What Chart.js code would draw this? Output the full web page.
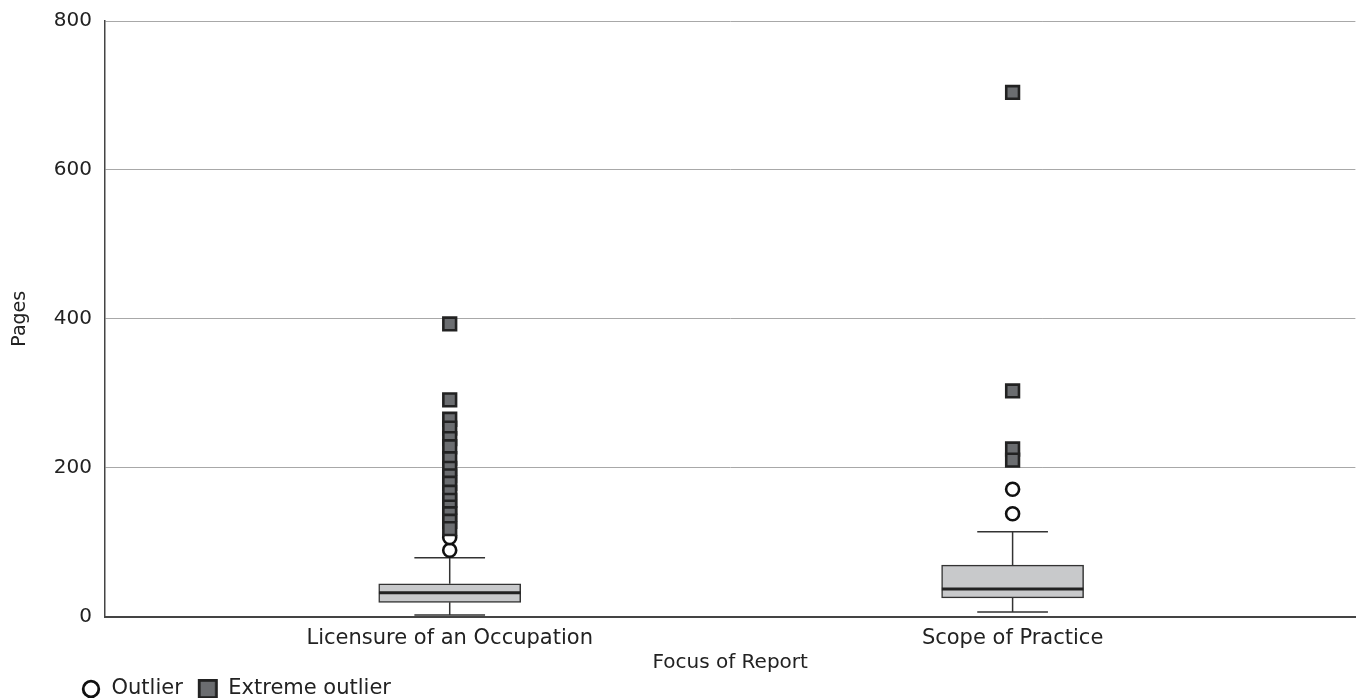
<!DOCTYPE html>
<html>
<head>
<meta charset="utf-8">
<title>Pages by Focus of Report</title>
<script src="https://cdn.jsdelivr.net/npm/chart.js@4.4.1/dist/chart.umd.min.js"></script>
<style>
  html, body { margin: 0; padding: 0; background: #ffffff; }
  #wrap { width: 1367px; height: 698px; }
</style>
</head>
<body>
<div id="wrap"><canvas id="chart" width="1367" height="698"></canvas></div>
<script>
// Report length (pages) by focus of report
const categories = ['Licensure of an Occupation', 'Scope of Practice'];
const lowerWhisker = [2, 6];
const q1 = [19, 25];
const median = [32, 37];
const q3 = [44, 69];
const upperWhisker = [79, 114];
const outliers = [[89, 106], [138, 171]];
const extremeOutliers = [
  [393, 291, 265, 253, 239, 228, 212, 199, 189, 179, 167, 156, 147, 138, 128, 118],
  [704, 303, 225, 210]
];
const yTicks = [0, 200, 400, 600, 800];

// Box geometry, in units of the x scale (one unit between categories)
const BOX_HALF = 0.1257;
const CAP_HALF = 0.0628;
const LEGEND_INDENT = 66;
const FONT = "'DejaVu Sans', 'Liberation Sans', Arial, sans-serif";
const INK = '#333333';
const TEXT = '#222222';

// x position of each category on the linear x scale
const catX = i => i + 1;

const boxData = categories.map((c, i) => ({ x: catX(i), y: [q1[i], q3[i]] }));

const medianData = [];
categories.forEach((c, i) => {
  medianData.push({ x: catX(i) - BOX_HALF, y: median[i] });
  medianData.push({ x: catX(i) + BOX_HALF, y: median[i] });
  medianData.push({ x: catX(i) + 0.5, y: null });
});

const whiskerData = [];
categories.forEach((c, i) => {
  const x = catX(i);
  whiskerData.push({ x, y: q3[i] }, { x, y: upperWhisker[i] }, { x, y: null });
  whiskerData.push({ x: x - CAP_HALF, y: upperWhisker[i] }, { x: x + CAP_HALF, y: upperWhisker[i] }, { x, y: null });
  whiskerData.push({ x, y: q1[i] }, { x, y: lowerWhisker[i] }, { x, y: null });
  whiskerData.push({ x: x - CAP_HALF, y: lowerWhisker[i] }, { x: x + CAP_HALF, y: lowerWhisker[i] }, { x, y: null });
});

const outlierData = [];
categories.forEach((c, i) => outliers[i].forEach(v => outlierData.push({ x: catX(i), y: v })));
const extremeData = [];
categories.forEach((c, i) => extremeOutliers[i].forEach(v => extremeData.push({ x: catX(i), y: v })));

// Legend markers drawn on small canvases
function makeIcon(kind) {
  const cv = document.createElement('canvas');
  cv.width = 22; cv.height = 22;
  const g = cv.getContext('2d');
  g.lineWidth = 2.8;
  if (kind === 'circle') {
    g.fillStyle = '#ffffff';
    g.strokeStyle = '#111111';
    g.beginPath(); g.arc(11, 11, 7.8, 0, Math.PI * 2); g.fill(); g.stroke();
  } else {
    g.fillStyle = '#6b6d70';
    g.strokeStyle = '#222222';
    g.fillRect(2, 2, 18, 18);
    g.strokeRect(2.4, 2.4, 17.2, 17.2);
  }
  return cv;
}
const circleIcon = makeIcon('circle');
const squareIcon = makeIcon('square');

// Indent the legend row under the axis labels
const legendIndent = {
  id: 'legendIndent',
  afterLayout(chart) {
    if (chart.legend) chart.legend.left += LEGEND_INDENT;
  }
};

new Chart(document.getElementById('chart'), {
  type: 'bar',
  plugins: [legendIndent],
  data: {
    datasets: [
      {
        type: 'scatter', label: 'Outlier', data: outlierData, order: 1,
        pointStyle: 'circle', pointRadius: 6.5, pointHoverRadius: 6.5,
        backgroundColor: '#ffffff', borderColor: '#111111', borderWidth: 2.6
      },
      {
        type: 'scatter', label: 'Extreme outlier', data: extremeData, order: 0,
        pointStyle: 'rect', pointRadius: 9, pointHoverRadius: 9,
        backgroundColor: '#6b6d70', borderColor: '#222222', borderWidth: 2.6
      },
      {
        type: 'line', label: 'median', data: medianData, order: 2,
        borderColor: '#222222', borderWidth: 3, pointRadius: 0, spanGaps: false, tension: 0
      },
      {
        type: 'bar', label: 'box', data: boxData, order: 3,
        backgroundColor: '#c8c9cb', borderColor: INK, borderWidth: 1.5,
        borderSkipped: false, barThickness: 142
      },
      {
        type: 'line', label: 'whisker', data: whiskerData, order: 4,
        borderColor: INK, borderWidth: 1.5, pointRadius: 0, spanGaps: false, tension: 0
      }
    ]
  },
  options: {
    responsive: false,
    animation: false,
    devicePixelRatio: 1,
    layout: { padding: { left: 0, right: 3, top: 0, bottom: -11.5 } },
    plugins: {
      tooltip: { enabled: false },
      legend: {
        position: 'bottom',
        align: 'start',
        labels: {
          usePointStyle: true,
          boxHeight: 20,
          boxWidth: 20,
          padding: 15,
          color: TEXT,
          font: { family: FONT, size: 21, lineHeight: 1 },
          filter: item => item.text === 'Outlier' || item.text === 'Extreme outlier',
          generateLabels: chart => chart.data.datasets.map((ds, i) => ({
            text: ds.label,
            datasetIndex: i,
            pointStyle: ds.label === 'Outlier' ? circleIcon : squareIcon,
            fillStyle: ds.backgroundColor,
            strokeStyle: ds.borderColor,
            lineWidth: 0,
            fontColor: TEXT,
            hidden: false
          }))
        }
      }
    },
    scales: {
      x: {
        type: 'linear',
        min: 0.3876,
        max: 2.609,
        offset: false,
        grid: { display: false, drawTicks: false },
        border: { display: true, color: '#444444', width: 2 },
        afterBuildTicks: axis => { axis.ticks = categories.map((c, i) => ({ value: catX(i) })); },
        ticks: {
          autoSkip: false,
          maxRotation: 0,
          padding: 11.5,
          color: TEXT,
          font: { family: FONT, size: 21, lineHeight: 1 },
          callback: v => categories[Math.round(v) - 1] || ''
        },
        title: {
          display: true,
          text: 'Focus of Report',
          color: TEXT,
          font: { family: FONT, size: 20, lineHeight: 1 },
          padding: { top: -7.5, bottom: -9.5 }
        }
      },
      y: {
        min: 0,
        max: 800,
        afterBuildTicks: axis => { axis.ticks = yTicks.map(v => ({ value: v })); },
        afterFit: scale => { scale.width = 105; },
        grid: { color: '#a8a8a8', lineWidth: 1, drawTicks: false },
        border: { display: true, color: '#444444', width: 1.5 },
        ticks: {
          padding: 13,
          color: TEXT,
          font: { family: FONT, size: 20, lineHeight: 0.8 }
        },
        title: {
          display: true,
          text: 'Pages',
          color: TEXT,
          font: { family: FONT, size: 19, lineHeight: 1 },
          padding: { top: 10.5, bottom: 0 }
        }
      }
    }
  }
});
</script>
</body>
</html>
